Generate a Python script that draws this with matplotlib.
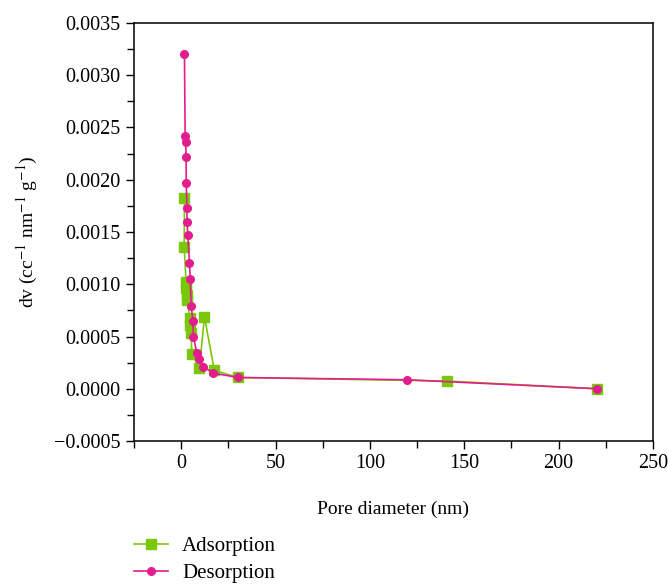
import matplotlib
matplotlib.use("Agg")
import matplotlib.pyplot as plt
from matplotlib.ticker import MultipleLocator, FuncFormatter

# pore size distribution (BJH), dv vs pore diameter
ads_d = [1.75, 1.6, 2.6, 2.8, 2.9, 3.0, 4.6, 4.9, 5.3, 5.6, 9.7, 12.3, 17.6, 30.1, 140.8, 220.6]
ads_dv = [0.001825, 0.001356, 0.00102, 0.00096, 0.00090, 0.00085, 0.00068, 0.00061,
          0.00053, 0.000335, 0.0002, 0.00069, 0.000175, 0.000108, 0.000074, 0.0]

des_d = [1.74, 2.1, 2.4, 2.6, 2.7, 3.0, 3.1, 3.5, 4.4, 4.8, 5.3, 6.2, 6.5, 8.3, 9.7,
         11.8, 16.8, 30.1, 119.6, 220.6]
des_dv = [0.0032, 0.002415, 0.00236, 0.002217, 0.001968, 0.00173, 0.0016, 0.00147, 0.0012,
          0.00105, 0.000794, 0.000648, 0.000495, 0.000342, 0.000287, 0.000213, 0.00015,
          0.000108, 0.000086, 0.0]

plt.rcParams['font.family'] = ['Liberation Serif', 'DejaVu Serif']
plt.rcParams['mathtext.fontset'] = 'stix'

green = '#7ac70c'
pink = '#e31e8c'

fig = plt.figure(figsize=(6.68, 5.86), dpi=100)
ax = fig.add_axes([0.2006, 0.2474, 0.7769, 0.7134])

ax.plot(ads_d, ads_dv, color=green, marker='s', markersize=6.5, linewidth=1.2,
        label='Adsorption')
ax.plot(des_d, des_dv, color=pink, marker='o', markersize=5.5, linewidth=1.2,
        label='Desorption')

ax.set_xlim(-25, 250)
ax.set_ylim(-0.0005, 0.0035)
ax.xaxis.set_major_locator(MultipleLocator(50))
ax.xaxis.set_minor_locator(MultipleLocator(25))
ax.yaxis.set_major_locator(MultipleLocator(0.0005))
ax.yaxis.set_minor_locator(MultipleLocator(0.00025))
ax.yaxis.set_major_formatter(FuncFormatter(lambda v, p: f'{v:.4f}'.replace('-', '\u2212')))
ax.tick_params(which='both', direction='out', top=False, right=False,
               labelsize=14.5, width=1)
ax.tick_params(which='major', length=6)
ax.tick_params(which='minor', length=5)
for sp in ax.spines.values():
    sp.set_linewidth(1.1)

ax.set_xlabel('Pore diameter (nm)', fontsize=14, labelpad=20)
ax.set_ylabel(r'dv (cc$^{-1}$ nm$^{-1}$ g$^{-1}$)', fontsize=14, labelpad=10)

ax.legend(loc='upper left', bbox_to_anchor=(0.0, -0.228), frameon=False,
          fontsize=15, handlelength=1.63, handletextpad=0.67, labelspacing=0.36,
          borderpad=0, borderaxespad=0)

fig.savefig('out.png', dpi=100)
